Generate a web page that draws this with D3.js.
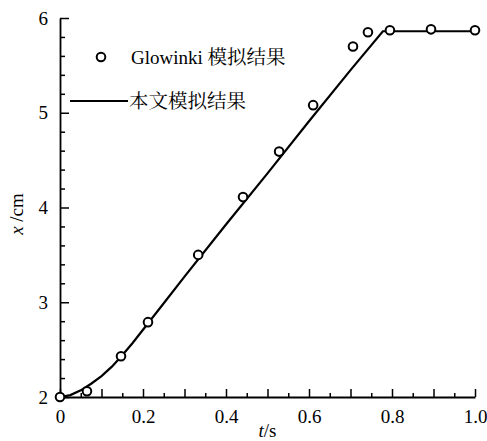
<!DOCTYPE html>
<html>
<head>
<meta charset="utf-8">
<script src="https://cdn.jsdelivr.net/npm/d3@7"></script>
<style>
  body { margin: 0; background: #fff; }
  svg text { font-family: "Liberation Serif", "Times New Roman", serif; fill: #000; }
  svg .cn { font-family: "Noto Serif CJK SC", "Noto Sans CJK SC", serif; }
</style>
</head>
<body>
<div id="chart"></div>
<script>
'use strict';

// Glowinki results (circles)
let glowT = [0, 0.065, 0.147, 0.212, 0.333, 0.441, 0.528, 0.610, 0.706, 0.742, 0.795, 0.894, 1.0];
let glowX = [2.0, 2.06, 2.43, 2.79, 3.50, 4.11, 4.59, 5.08, 5.70, 5.85, 5.87, 5.88, 5.87];

// this paper (solid line)
let simT = [0, 0.025, 0.05, 0.075, 0.1, 0.125, 0.15, 0.175, 0.2, 0.25, 0.3, 0.4, 0.5, 0.6, 0.7, 0.778, 0.8, 0.9, 1.0];
let simX = [2.0, 2.02, 2.07, 2.14, 2.22, 2.32, 2.44, 2.57, 2.71, 2.99, 3.27, 3.82, 4.36, 4.91, 5.45, 5.86, 5.86, 5.86, 5.86];

let xTicks = [0, 0.1, 0.2, 0.3, 0.4, 0.5, 0.6, 0.7, 0.8, 0.9, 1.0];
let xMinor = [0.05, 0.15, 0.25, 0.35, 0.45, 0.55, 0.65, 0.75, 0.85, 0.95];
let yTicks = [2, 3, 4, 5, 6];
let yMinor = [2.2, 2.4, 2.6, 2.8, 3.2, 3.4, 3.6, 3.8, 4.2, 4.4, 4.6, 4.8, 5.2, 5.4, 5.6, 5.8];

let legendLabels = ["Glowinki 模拟结果", "本文模拟结果"];

let width = 487;
let height = 441;
let margin = {top: 18, right: 12, bottom: 44, left: 60};
let serif = "'Liberation Serif', 'Times New Roman', serif";

let x = d3.scaleLinear().domain([0, 1]).range([margin.left, width - margin.right]);
let y = d3.scaleLinear().domain([2, 6]).range([height - margin.bottom, margin.top]);

let svg = d3.select("#chart").append("svg")
    .attr("width", width)
    .attr("height", height);

// x axis
let gx = svg.append("g")
    .attr("transform", "translate(0," + y(2) + ")")
    .call(d3.axisBottom(x)
        .tickValues(xTicks)
        .tickSizeInner(-8)
        .tickSizeOuter(0)
        .tickPadding(13)
        .tickFormat(function(d, i) { return i % 2 === 0 ? d3.format(i === 10 ? ".1f" : "")(d) : ""; }));
gx.append("g")
    .call(d3.axisBottom(x).tickValues(xMinor).tickSizeInner(-4).tickSizeOuter(0).tickFormat(""))
    .select(".domain").remove();

// y axis
let gy = svg.append("g")
    .attr("transform", "translate(" + x(0) + ",0)")
    .call(d3.axisLeft(y)
        .tickValues(yTicks)
        .tickSizeInner(-9)
        .tickSizeOuter(0)
        .tickPadding(12)
        .tickFormat(d3.format("d")));
gy.append("g")
    .call(d3.axisLeft(y).tickValues(yMinor).tickSizeInner(-5).tickSizeOuter(0).tickFormat(""))
    .select(".domain").remove();

svg.selectAll("g").attr("font-family", serif);
svg.selectAll(".domain").attr("stroke", "#000").attr("stroke-width", 1.8);
svg.selectAll(".tick line").attr("stroke", "#000").attr("stroke-width", 1.5);
svg.selectAll(".tick text")
    .attr("fill", "#000")
    .attr("font-size", 19);

// axis titles
let tLabel = svg.append("text")
    .attr("x", (x(0) + x(1)) / 2)
    .attr("y", 437)
    .attr("text-anchor", "middle")
    .attr("font-size", 19);
tLabel.append("tspan").attr("font-style", "italic").text("t");
tLabel.append("tspan").text("/s");

let xLabel = svg.append("text")
    .attr("transform", "translate(23,214)rotate(-90)")
    .attr("text-anchor", "middle")
    .attr("font-size", 19);
xLabel.append("tspan").attr("font-style", "italic").text("x");
xLabel.append("tspan").text(" /cm");

// line
let sim = simT.map(function(t, i) { return [t, simX[i]]; });
svg.append("path")
    .datum(sim)
    .attr("fill", "none")
    .attr("stroke", "#000")
    .attr("stroke-width", 2.2)
    .attr("d", d3.line()
        .x(function(d) { return x(d[0]); })
        .y(function(d) { return y(d[1]); }));

// circles
let glow = glowT.map(function(t, i) { return [t, glowX[i]]; });
svg.selectAll(".pt")
    .data(glow)
    .enter().append("circle")
        .attr("class", "pt")
        .attr("cx", function(d) { return x(d[0]); })
        .attr("cy", function(d) { return y(d[1]); })
        .attr("r", 4.3)
        .attr("fill", "#fff")
        .attr("stroke", "#000")
        .attr("stroke-width", 2);

// legend
let lg = svg.append("g");
lg.append("circle")
    .attr("cx", 101).attr("cy", 57).attr("r", 4.3)
    .attr("fill", "#fff").attr("stroke", "#000").attr("stroke-width", 2);
let l1 = lg.append("text")
    .attr("x", 131).attr("y", 64)
    .attr("font-size", 19);
l1.append("tspan").text(legendLabels[0].split(" ")[0] + " ");
l1.append("tspan").attr("class", "cn").attr("font-size", 19.5).text(legendLabels[0].split(" ")[1]);

lg.append("line")
    .attr("x1", 70).attr("x2", 128).attr("y1", 101).attr("y2", 101)
    .attr("stroke", "#000").attr("stroke-width", 2.2);
lg.append("text")
    .attr("class", "cn")
    .attr("x", 129).attr("y", 108)
    .attr("font-size", 19.5)
    .text(legendLabels[1]);
</script>
</body>
</html>
